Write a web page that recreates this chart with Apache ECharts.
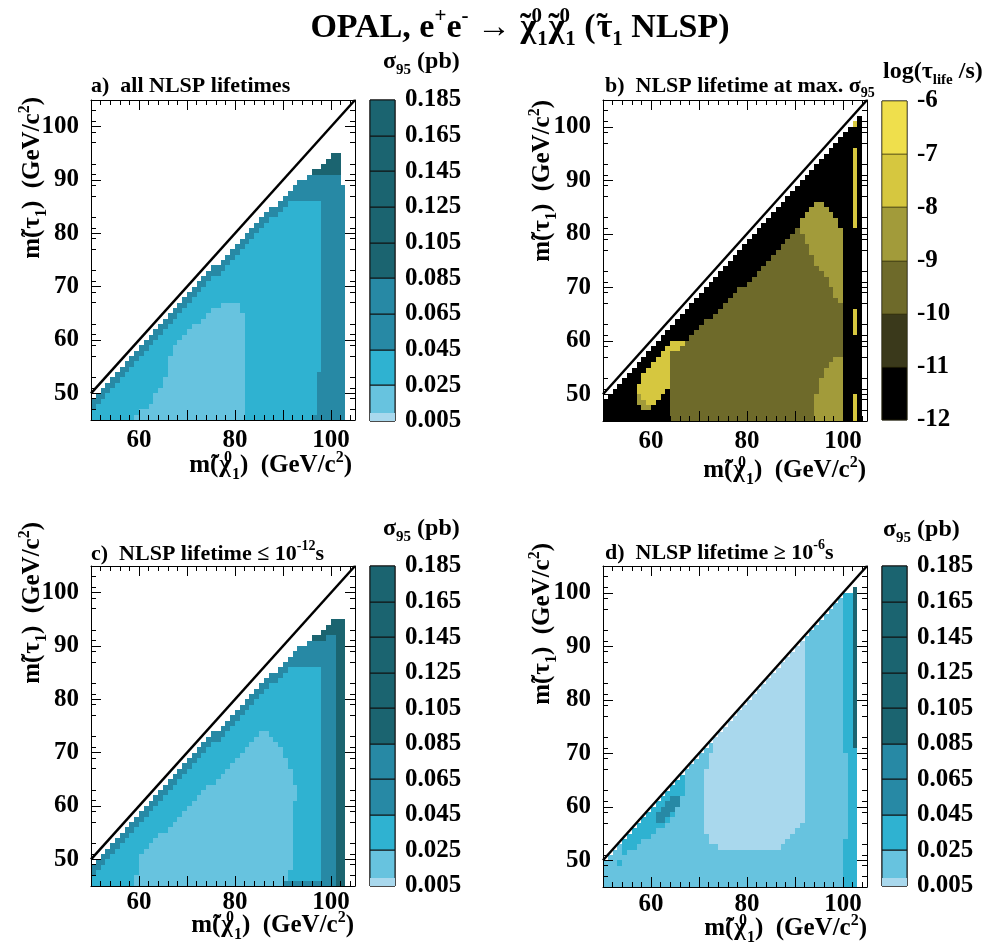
<!DOCTYPE html>
<html>
<head>
<meta charset="utf-8">
<title>OPAL neutralino pair limits, stau NLSP</title>
<script src="https://cdn.jsdelivr.net/npm/echarts@6.0.0/dist/echarts.min.js"></script>
<style>
  html, body { margin: 0; padding: 0; background: #fff; }
  #main { width: 989px; height: 951px; }
</style>
</head>
<body>
<div id="main"></div>
<script>
// cells are 1 GeV x 1 GeV; each string is one column (x = 50, 51, ...),
// "level:yTop" runs stacked upward from y = 45
const xStart = 50
const yStart = 45

// a) all NLSP lifetimes (sigma levels 0 pale .. 4 dark)
const colsA = [
  '2:47 3:49', '2:48 3:50', '2:49 3:51', '2:50 3:52', '2:51 3:53', '2:52 3:54', '2:53 3:55', '2:54 3:56', '2:55 3:57',
  '1:46 2:56 3:58', '1:47 2:57 3:59', '1:47 2:58 3:60', '1:48 2:59 3:61', '1:50 2:60 3:62', '1:51 2:61 3:63',
  '1:53 2:62 3:64', '1:57 2:63 3:65', '1:59 2:64 3:66', '1:60 2:65 3:67', '1:61 2:66 3:68', '1:62 2:67 3:69',
  '1:63 2:68 3:70', '1:63 2:69 3:71', '1:64 2:70 3:72', '1:65 2:71 3:73', '1:66 2:72 3:74', '1:66 2:72 3:74',
  '1:67 2:73 3:75', '1:67 2:74 3:76', '1:67 2:75 3:77', '1:67 2:76 3:78', '1:65 2:77 3:79',
  '2:78 3:80', '2:79 3:81', '2:80 3:82', '2:81 3:83', '2:82 3:84', '2:83 3:85', '2:83 3:85', '2:84 3:86',
  '2:85 3:87', '2:86 3:88', '2:86 3:89', '2:86 3:90', '2:86 3:90', '2:86 3:91',
  '3:46 2:86 3:91 4:92', '3:54 2:86 3:91 4:92', '3:91 4:93', '3:91 4:94', '3:91 4:95', '3:91 4:95', '3:89'
]

// b) log10 of NLSP lifetime at max. sigma95 (levels 0 = -12..-11 .. 5 = -7..-6)
const colsB = [
  '0:49', '0:50', '0:51', '0:52', '0:53', '0:54', '0:55',
  '0:48 3:50 4:52 0:56', '0:47 3:49 4:54 0:57', '0:47 3:48 4:55 0:58', '0:48 4:56 0:59',
  '0:49 4:57 0:60', '0:50 4:58 0:61', '0:51 4:59 0:62',
  '2:58 4:60 0:63', '2:58 4:60 0:64', '2:59 4:60 0:65',
  '2:60 0:66', '2:61 0:67', '2:62 0:68', '2:63 0:69', '2:64 0:70', '2:64 0:71', '2:65 0:72', '2:66 0:73',
  '2:67 0:74', '2:68 0:75', '2:69 0:76', '2:70 0:77', '2:70 0:78', '2:71 0:79', '2:72 0:80', '2:73 0:81',
  '2:74 0:82', '2:75 0:83', '2:76 0:84', '2:77 0:85', '2:78 0:86', '2:79 0:87', '2:80 0:88', '2:81 0:89',
  '2:80 3:83 0:90', '2:78 3:84 0:91', '2:76 3:85 0:92',
  '3:50 2:74 3:86 0:93', '3:53 2:73 3:86 0:94', '3:55 2:72 3:85 0:95', '3:56 2:70 3:84 0:96',
  '3:57 2:68 3:83 0:97', '3:57 2:67 3:81 0:98',
  '0:99', '0:100', '4:50 0:61 4:66 0:81 4:96 0:100 4:101', '0:102'
]

// c) NLSP lifetime <= 1e-12 s
const colsC = [
  '2:47 3:49', '2:48 3:50', '2:49 3:51', '2:50 3:52', '2:51 3:53', '2:52 3:54', '2:53 3:55', '2:54 3:56', '2:55 3:57',
  '1:47 2:56 3:58', '1:51 2:57 3:59', '1:52 2:58 3:60', '1:53 2:59 3:61', '1:54 2:60 3:62', '1:55 2:61 3:63',
  '1:55 2:62 3:64', '1:56 2:63 3:65', '1:57 2:64 3:66', '1:58 2:65 3:67', '1:59 2:66 3:68', '1:60 2:67 3:69',
  '1:61 2:68 3:70', '1:62 2:69 3:71', '1:63 2:70 3:72', '1:64 2:71 3:73', '1:64 2:72 3:74', '1:65 2:72 3:74',
  '1:66 2:73 3:75', '1:67 2:74 3:76', '1:68 2:75 3:77', '1:69 2:76 3:78', '1:70 2:77 3:79', '1:71 2:78 3:80',
  '1:72 2:79 3:81', '1:73 2:80 3:82', '1:74 2:81 3:83', '1:74 2:82 3:84', '1:73 2:83 3:85', '1:72 2:83 3:85',
  '1:71 2:84 3:86',
  '3:46 1:69 2:85 3:87', '3:46 2:48 1:67 2:86 3:88', '3:46 2:61 1:64 2:86 3:89',
  '3:46 2:86 3:90', '3:46 2:86 3:90', '3:46 2:86 3:91', '3:46 2:86 3:91 4:92', '3:46 2:86 3:91 4:92',
  '3:91 4:93', '3:92 4:94', '3:92 4:95', '4:95', '4:95'
]

// d) NLSP lifetime >= 1e-6 s
const colsD = [
  '1:50', '1:51', '1:52', '1:49 2:50 1:53', '1:51 2:54', '1:52 2:55', '1:52 2:56', '1:53 2:57', '1:54 2:58',
  '1:54 2:59', '1:55 2:60', '1:56 2:57 3:59 2:61', '1:56 2:57 3:60 2:62', '1:57 2:58 3:61 2:63',
  '1:58 2:59 3:62 2:64', '1:60 3:62 2:65', '1:62 2:66',
  '1:67', '1:68', '1:69', '1:70',
  '1:55 0:67 1:71', '1:53 0:70 1:72', '1:53 0:73', '1:52 0:74', '1:52 0:75', '1:52 0:76', '1:52 0:77',
  '1:52 0:78', '1:52 0:79', '1:52 0:80', '1:52 0:81', '1:52 0:82', '1:52 0:83', '1:52 0:84', '1:52 0:85',
  '1:52 0:86', '1:53 0:87', '1:54 0:88', '1:55 0:89', '1:56 0:90', '1:57 0:91',
  '1:92', '1:93', '1:94', '1:95', '1:96', '1:97', '1:98', '1:99',
  '2:54 1:70 2:100', '2:100', '2:71 4:101'
]

// kinematic limit m(stau) = m(chi)
const diagonal = [[50, 50], [105, 105]]

const xTickLabels = [60, 80, 100]
const yTickLabels = [50, 60, 70, 80, 90, 100]
const sigmaTicks = [0.005, 0.025, 0.045, 0.065, 0.085, 0.105, 0.125, 0.145, 0.165, 0.185]
const lifeTicks = [-12, -11, -10, -9, -8, -7, -6]

// colour bar bins: [from, to, level, outlined]
const sigmaBins = [
  [0.005, 0.025, 1, 1], [0.025, 0.045, 2, 1], [0.045, 0.065, 3, 1], [0.065, 0.085, 3, 1],
  [0.085, 0.105, 4, 1], [0.105, 0.125, 4, 1], [0.125, 0.145, 4, 1], [0.145, 0.165, 4, 1],
  [0.165, 0.185, 4, 1], [0.005, 0.0095, 0, 0]
]
const lifeBins = [[-12, -11, 0, 1], [-11, -10, 1, 1], [-10, -9, 2, 1], [-9, -8, 3, 1], [-8, -7, 4, 1], [-7, -6, 5, 1]]

const sigmaColors = ['#a9d8ed', '#67c3df', '#2fb2d1', '#2789a5', '#1b6470']
const lifeColors = ['#000000', '#3a391b', '#6e6a2a', '#a29b3a', '#d6c73f', '#efdf4c']

const fontName = 'Liberation Serif'

function parseCols(cols) {
  const runs = []
  cols.forEach(function (s, i) {
    let y = yStart
    s.split(' ').forEach(function (tok) {
      const parts = tok.split(':').map(Number)
      if (parts[1] > y) runs.push([xStart + i, y, parts[1], parts[0]])
      y = parts[1]
    })
  })
  return runs
}

function cellRender(colors) {
  return function (params, api) {
    const x = api.value(0)
    const a = api.coord([x, api.value(2)])
    const b = api.coord([x + 1, api.value(1)])
    const l = Math.round(a[0]), r = Math.round(b[0])
    const t = Math.round(a[1]), btm = Math.round(b[1])
    return {
      type: 'rect',
      shape: { x: l, y: t, width: r - l, height: btm - t },
      style: { fill: colors[api.value(3)] }
    }
  }
}

function barRender(colors, edge) {
  return function (params, api) {
    const a = api.coord([0, api.value(1)])
    const b = api.coord([1, api.value(0)])
    const l = Math.round(a[0]), r = Math.round(b[0])
    const t = Math.round(a[1]), btm = Math.round(b[1])
    return {
      type: 'rect',
      shape: { x: l, y: t, width: r - l, height: btm - t },
      style: { fill: colors[api.value(2)], stroke: api.value(3) ? edge : null, lineWidth: 1 }
    }
  }
}

const panels = [
  { box: { left: 91, top: 100, width: 264, height: 320 }, bar: { left: 370, top: 100, width: 25, height: 321 },
    cols: colsA, colors: sigmaColors, bins: sigmaBins, ticks: sigmaTicks, edge: '#111', xMargin: 8 },
  { box: { left: 603, top: 100, width: 264, height: 321 }, bar: { left: 882, top: 101, width: 25, height: 319 },
    cols: colsB, colors: lifeColors, bins: lifeBins, ticks: lifeTicks, edge: 'rgba(50,48,10,0.6)', xMargin: 8 },
  { box: { left: 91, top: 566, width: 264, height: 320 }, bar: { left: 370, top: 566, width: 25, height: 320 },
    cols: colsC, colors: sigmaColors, bins: sigmaBins, ticks: sigmaTicks, edge: '#111', xMargin: 4 },
  { box: { left: 603, top: 566, width: 264, height: 321 }, bar: { left: 882, top: 566, width: 25, height: 320 },
    cols: colsD, colors: sigmaColors, bins: sigmaBins, ticks: sigmaTicks, edge: '#111', xMargin: 5 }
]

const grid = [], xAxis = [], yAxis = [], series = []
const black = { color: '#000', width: 1 }
const labelFont = { fontFamily: fontName, fontWeight: 'bold', fontSize: 25, color: '#000' }

panels.forEach(function (p, i) {
  grid.push(Object.assign({ containLabel: false }, p.box))
  ;['bottom', 'top'].forEach(function (pos) {
    xAxis.push({
      type: 'value', gridIndex: i, position: pos, min: 50, max: 105, interval: 10, z: 5,
      axisLine: { show: true, onZero: false, lineStyle: black },
      axisTick: { show: true, inside: true, length: 10, lineStyle: black },
      minorTick: { show: true, splitNumber: 5, length: 5, lineStyle: black },
      splitLine: { show: false },
      axisLabel: Object.assign({ show: pos === 'bottom', margin: p.xMargin, customValues: xTickLabels }, labelFont)
    })
  })
  ;['left', 'right'].forEach(function (pos) {
    yAxis.push({
      type: 'value', gridIndex: i, position: pos, min: 45, max: 105, interval: 10, z: 5,
      axisLine: { show: true, onZero: false, lineStyle: black },
      axisTick: { show: true, inside: true, length: 10, customValues: yTickLabels, lineStyle: black },
      minorTick: { show: true, splitNumber: 5, length: 5, lineStyle: black },
      splitLine: { show: false },
      axisLabel: Object.assign({ show: pos === 'left', margin: 12, customValues: yTickLabels }, labelFont)
    })
  })
  series.push({
    type: 'custom', xAxisIndex: 2 * i, yAxisIndex: 2 * i, z: 2, silent: true,
    renderItem: cellRender(p.colors), data: parseCols(p.cols)
  })
  series.push({
    type: 'line', xAxisIndex: 2 * i, yAxisIndex: 2 * i, z: 4, silent: true, symbol: 'none',
    lineStyle: { color: '#000', width: 2.5 }, data: diagonal
  })
})

panels.forEach(function (p, i) {
  const g = 4 + i
  grid.push(Object.assign({ show: true, borderColor: '#111', borderWidth: 1, backgroundColor: 'transparent' }, p.bar))
  xAxis.push({ type: 'value', gridIndex: g, min: 0, max: 1, show: false })
  yAxis.push({
    type: 'value', gridIndex: g, position: 'right', min: p.ticks[0], max: p.ticks[p.ticks.length - 1],
    axisLine: { show: false }, axisTick: { show: false }, splitLine: { show: false },
    axisLabel: Object.assign({
      margin: 10, customValues: p.ticks,
      formatter: function (v) { return p.ticks === sigmaTicks ? v.toFixed(3) : String(Math.round(v)) }
    }, labelFont)
  })
  series.push({
    type: 'custom', xAxisIndex: 8 + i, yAxisIndex: 8 + i, silent: true,
    renderItem: barRender(p.colors, p.edge), data: p.bins
  })
})

function richFor(size) {
  const small = Math.round(size * 0.62)
  const base = { fontFamily: fontName, fontWeight: 'bold', fill: '#000' }
  return {
    n: Object.assign({ fontSize: size, lineHeight: Math.round(size * 1.3) }, base),
    p: Object.assign({ fontSize: small, verticalAlign: 'top' }, base),
    b: Object.assign({ fontSize: small, verticalAlign: 'bottom' }, base),
    s: Object.assign({ fontSize: small, verticalAlign: 'top', width: 1 }, base),
    // accent drawn over the following letter
    t: Object.assign({ fontSize: size, width: 1 }, base)
  }
}

const texts = []
function addText(x, y, str, size, align, vAlign, rot) {
  texts.push({
    type: 'text', x: x, y: y, rotation: rot || 0, silent: true, z: 10,
    style: {
      text: str, rich: richFor(size), fill: '#000', align: align, verticalAlign: vAlign,
      font: 'bold ' + size + 'px "' + fontName + '"'
    }
  })
}

const tilde = '{t|\u00a0\u200a\u02dc}'
const xTitle = '{n|m(}' + tilde + '{n|χ}{s|0}{b|1}{n|)  (GeV/c}{p|2}{n|)}'
const yTitle = '{n|m(}' + tilde + '{n|τ}{b|1}{n|)  (GeV/c}{p|2}{n|)}'
const sigmaTitle = '{n|σ}{b|95}{n| (pb)}'

addText(520, 28, '{n|OPAL, e}{p|+}{n|e}{p|-}{n| → }' + tilde + '{n|χ}{s|0}{b|1}' + tilde + '{n|χ}{s|0}{b|1}{n| (}' +
  tilde + '{n|τ}{b|1}{n| NLSP)}', 34, 'center', 'middle')

addText(91, 86, '{n|a)  all NLSP lifetimes}', 22, 'left', 'middle')
addText(605, 86, '{n|b)  NLSP lifetime at max. σ}{b|95}', 22, 'left', 'middle')
addText(91, 554, '{n|c)  NLSP lifetime ≤ 10}{p|-12}{n|s}', 22, 'left', 'middle')
addText(605, 553, '{n|d)  NLSP lifetime ≥ 10}{p|-6}{n|s}', 22, 'left', 'middle')

addText(383, 62, sigmaTitle, 24, 'left', 'middle')
addText(883, 72, '{n|log(τ}{b|life}{n| /s)}', 24, 'left', 'middle')
addText(383, 529, sigmaTitle, 24, 'left', 'middle')
addText(883, 530, sigmaTitle, 24, 'left', 'middle')

addText(352, 466, xTitle, 25, 'right', 'middle')
addText(866, 471, xTitle, 25, 'right', 'middle')
addText(354, 926, xTitle, 25, 'right', 'middle')
addText(867, 929, xTitle, 25, 'right', 'middle')

addText(33, 97, yTitle, 25, 'right', 'middle', Math.PI / 2)
addText(543, 100, yTitle, 25, 'right', 'middle', Math.PI / 2)
addText(33, 522, yTitle, 25, 'right', 'middle', Math.PI / 2)
addText(543, 543, yTitle, 25, 'right', 'middle', Math.PI / 2)

const chart = echarts.init(document.getElementById('main'))
chart.setOption({
  animation: false,
  backgroundColor: '#fff',
  grid: grid,
  xAxis: xAxis,
  yAxis: yAxis,
  series: series,
  graphic: { elements: texts }
})
</script>
</body>
</html>
